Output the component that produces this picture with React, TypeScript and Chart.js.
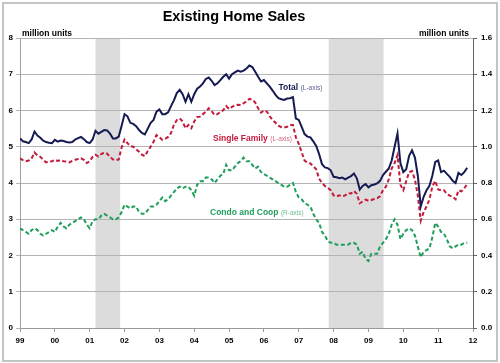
import React, { useEffect, useRef } from "react";
import { Chart, registerables } from "chart.js";

Chart.register(...registerables);

// Monthly data, Jan 1999 .. Nov 2011 (index 0 = Jan 1999)
const yearLabels = ["99", "00", "01", "02", "03", "04", "05", "06", "07", "08", "09", "10", "11", "12"];

// Total existing home sales, million units (left axis)
const totalSales = [
  5.23, 5.15, 5.13, 5.10, 5.20, 5.42, 5.31, 5.25, 5.17, 5.13, 5.11, 5.10,
  5.19, 5.14, 5.17, 5.16, 5.13, 5.12, 5.13, 5.20, 5.24, 5.27, 5.21, 5.13,
  5.10, 5.20, 5.44, 5.36, 5.41, 5.46, 5.45, 5.36, 5.23, 5.23, 5.28, 5.58,
  5.90, 5.84, 5.66, 5.63, 5.57, 5.46, 5.38, 5.34, 5.50, 5.66, 5.74, 5.97,
  6.03, 5.90, 5.90, 5.95, 6.12, 6.28, 6.48, 6.57, 6.45, 6.24, 6.45, 6.24,
  6.45, 6.60, 6.66, 6.75, 6.87, 6.91, 6.82, 6.70, 6.75, 6.84, 6.93, 7.00,
  6.88, 7.00, 7.05, 7.10, 7.07, 7.10, 7.16, 7.24, 7.20, 7.07, 6.93, 6.80,
  6.84, 6.75, 6.66, 6.55, 6.43, 6.34, 6.31, 6.29, 6.33, 6.34, 6.37, 5.78,
  5.74, 5.55, 5.35, 5.28, 5.26, 5.15, 5.02, 4.80, 4.52, 4.43, 4.41, 4.35,
  4.17, 4.16, 4.13, 4.15, 4.10, 4.15, 4.19, 4.26, 4.13, 3.82, 3.92, 3.97,
  3.88, 3.94, 3.96, 3.99, 4.06, 4.22, 4.31, 4.40, 4.62, 5.00, 5.37, 4.55,
  4.30, 4.38, 4.75, 4.90, 4.70, 4.20, 3.35, 3.62, 3.80, 3.92, 4.20, 4.58,
  4.62, 4.30, 4.34, 4.25, 4.17, 4.06, 4.00, 4.28, 4.22, 4.30, 4.42,
];

// Single family, million units (left axis)
const singleFamily = [
  4.68, 4.63, 4.60, 4.62, 4.68, 4.84, 4.76, 4.72, 4.64, 4.57, 4.59, 4.60,
  4.64, 4.61, 4.63, 4.60, 4.59, 4.57, 4.61, 4.64, 4.66, 4.68, 4.64, 4.55,
  4.60, 4.72, 4.78, 4.73, 4.80, 4.84, 4.81, 4.72, 4.65, 4.63, 4.65, 4.98,
  5.20, 5.10, 5.02, 5.00, 4.93, 4.86, 4.78, 4.74, 4.88, 5.00, 5.14, 5.32,
  5.26, 5.19, 5.22, 5.27, 5.38, 5.60, 5.74, 5.78, 5.70, 5.51, 5.60, 5.51,
  5.70, 5.82, 5.83, 5.90, 5.97, 6.06, 5.98, 5.88, 5.90, 5.96, 6.01, 6.12,
  6.04, 6.10, 6.14, 6.16, 6.15, 6.20, 6.25, 6.32, 6.30, 6.22, 6.06, 5.94,
  6.00, 5.97, 5.84, 5.74, 5.66, 5.58, 5.54, 5.53, 5.55, 5.60, 5.60, 5.26,
  5.08, 4.85, 4.62, 4.56, 4.54, 4.46, 4.38, 4.12, 4.00, 3.92, 3.87, 3.80,
  3.66, 3.63, 3.66, 3.63, 3.66, 3.72, 3.71, 3.78, 3.70, 3.44, 3.49, 3.54,
  3.51, 3.53, 3.56, 3.58, 3.64, 3.80, 3.90, 4.10, 4.40, 4.55, 4.77, 3.95,
  3.80, 4.05, 4.30, 4.33, 4.10, 3.65, 2.96, 3.20, 3.35, 3.55, 3.90, 4.06,
  3.82, 3.80, 3.80, 3.70, 3.65, 3.62, 3.55, 3.80, 3.77, 3.85, 3.98,
];

// Condo and co-op, million units (right axis)
const condoCoop = [
  0.55, 0.54, 0.53, 0.52, 0.54, 0.55, 0.54, 0.52, 0.51, 0.52, 0.53, 0.54,
  0.53, 0.56, 0.58, 0.56, 0.55, 0.57, 0.58, 0.59, 0.60, 0.61, 0.60, 0.57,
  0.55, 0.59, 0.60, 0.60, 0.62, 0.63, 0.62, 0.61, 0.60, 0.60, 0.61, 0.64,
  0.68, 0.67, 0.66, 0.67, 0.67, 0.64, 0.63, 0.63, 0.65, 0.67, 0.67, 0.68,
  0.70, 0.72, 0.70, 0.71, 0.73, 0.75, 0.77, 0.78, 0.77, 0.78, 0.78, 0.76,
  0.73, 0.79, 0.81, 0.81, 0.83, 0.83, 0.82, 0.80, 0.82, 0.84, 0.85, 0.90,
  0.87, 0.87, 0.89, 0.91, 0.92, 0.94, 0.92, 0.92, 0.90, 0.88, 0.89, 0.86,
  0.85, 0.84, 0.83, 0.82, 0.81, 0.80, 0.79, 0.78, 0.78, 0.79, 0.80, 0.75,
  0.72, 0.71, 0.69, 0.68, 0.67, 0.63, 0.60, 0.58, 0.53, 0.51, 0.48, 0.47,
  0.47, 0.46, 0.46, 0.46, 0.46, 0.46, 0.47, 0.47, 0.46, 0.41, 0.42, 0.38,
  0.37, 0.41, 0.41, 0.41, 0.45, 0.47, 0.49, 0.52, 0.57, 0.60, 0.57, 0.49,
  0.52, 0.54, 0.55, 0.54, 0.51, 0.45, 0.39, 0.42, 0.43, 0.44, 0.50, 0.58,
  0.56, 0.53, 0.52, 0.49, 0.45, 0.44, 0.45, 0.46, 0.46, 0.47, 0.47,
];

// Recession periods, in month index units
const recessionStarts = [26, 106.3];
const recessionEnds = [34.5, 125.2];

const leftMax = 8;
const rightMax = 1.6;

const FONT = '"Liberation Sans", Arial, Helvetica, sans-serif';
const NAVY = "#151a52";
const RED = "#c41a3c";
const GREEN = "#1f9e5c";

const toPoints = (arr: number[]) => arr.map((v, i) => ({ x: i, y: v }));

const decorPlugin = {
  id: "decor",
  beforeDraw(chart: any) {
    const { ctx, chartArea, scales } = chart;
    ctx.save();
    ctx.fillStyle = "#ffffff";
    ctx.fillRect(0, 0, chart.width, chart.height);
    // outer frame
    ctx.strokeStyle = "#c4c4c4";
    ctx.lineWidth = 2;
    ctx.strokeRect(3, 3, chart.width - 6, chart.height - 5);
    // recession shading
    ctx.fillStyle = "#dcdcdc";
    recessionStarts.forEach((s, k) => {
      const x0 = scales.x.getPixelForValue(s);
      const x1 = scales.x.getPixelForValue(recessionEnds[k]);
      ctx.fillRect(x0, chartArea.top, x1 - x0, chartArea.bottom - chartArea.top);
    });
    ctx.restore();
  },
  afterDraw(chart: any) {
    const { ctx } = chart;
    ctx.save();
    ctx.fillStyle = "#000";
    ctx.textBaseline = "alphabetic";
    ctx.textAlign = "center";
    ctx.font = `bold 14.5px ${FONT}`;
    ctx.fillText("Existing Home Sales", 234, 21);

    ctx.font = `bold 8.5px ${FONT}`;
    ctx.textAlign = "left";
    ctx.fillText("million units", 22, 36);
    ctx.textAlign = "right";
    ctx.fillText("million units", 469, 36);

    const drawLabel = (x: number, y: number, main: string, sub: string, c1: string, c2: string) => {
      ctx.textAlign = "left";
      ctx.font = `bold 8.5px ${FONT}`;
      ctx.fillStyle = c1;
      ctx.fillText(main, x, y);
      const w = ctx.measureText(main).width;
      ctx.font = `6.5px ${FONT}`;
      ctx.fillStyle = c2;
      ctx.fillText(sub, x + w + 2.5, y);
    };
    drawLabel(278.5, 90, "Total", "(L-axis)", NAVY, "#5a5f8e");
    drawLabel(213, 141, "Single Family", "(L-axis)", RED, "#d56a7e");
    drawLabel(210, 215, "Condo and Coop", "(R-axis)", GREEN, "#6cbf90");
    ctx.restore();
  },
};

export default function App() {
  const canvasRef = useRef<HTMLCanvasElement | null>(null);

  useEffect(() => {
    if (!canvasRef.current) return;
    const tickFont = { family: FONT, size: 8, weight: "bold" as const };
    const chart = new Chart(canvasRef.current, {
      type: "line",
      data: {
        datasets: [
          {
            label: "Total",
            data: toPoints(totalSales),
            yAxisID: "y",
            borderColor: NAVY,
            borderWidth: 2,
            pointRadius: 0,
            tension: 0,
          },
          {
            label: "Single Family",
            data: toPoints(singleFamily),
            yAxisID: "y",
            borderColor: RED,
            borderWidth: 2,
            borderDash: [4, 2.5],
            pointRadius: 0,
            tension: 0,
          },
          {
            label: "Condo and Coop",
            data: toPoints(condoCoop),
            yAxisID: "y1",
            borderColor: GREEN,
            borderWidth: 2,
            borderDash: [4, 2.5],
            pointRadius: 0,
            tension: 0,
          },
        ],
      },
      options: {
        responsive: false,
        animation: false,
        layout: { padding: { top: 38, left: 0, right: 0, bottom: 0 } },
        plugins: {
          legend: { display: false },
          tooltip: { enabled: false },
          title: { display: false },
        },
        scales: {
          x: {
            type: "linear",
            min: 0,
            max: (yearLabels.length - 1) * 12,
            afterFit: (s: any) => {
              s.height = 35;
            },
            afterBuildTicks: (s: any) => {
              s.ticks = yearLabels.map((_, k) => ({ value: k * 12 }));
            },
            ticks: {
              autoSkip: false,
              maxRotation: 0,
              font: tickFont,
              color: "#000",
              padding: 4,
              callback: (v: any) => yearLabels[Math.round(Number(v) / 12)],
            },
            grid: { drawOnChartArea: false, tickLength: 4, color: "#999" },
            border: { color: "#999" },
          },
          y: {
            position: "left",
            min: 0,
            max: leftMax,
            afterFit: (s: any) => {
              s.width = 20;
            },
            ticks: { stepSize: 1, font: tickFont, color: "#000", padding: 3 },
            grid: { color: "#b4b4b4", tickLength: 4 },
            border: { color: "#a0a0a0" },
          },
          y1: {
            position: "right",
            min: 0,
            max: rightMax,
            afterFit: (s: any) => {
              s.width = 27;
            },
            ticks: {
              stepSize: 0.2,
              font: tickFont,
              color: "#000",
              padding: 4,
              callback: (v: any) => Number(v).toFixed(1),
            },
            grid: { drawOnChartArea: false, tickLength: 4, color: "#666" },
            border: { color: "#666" },
          },
        },
      },
      plugins: [decorPlugin],
    });
    return () => chart.destroy();
  }, []);

  return (
    <div style={{ position: "absolute", left: 0, top: 0, width: 500, height: 363 }}>
      <canvas ref={canvasRef} width={500} height={363} style={{ width: 500, height: 363 }} />
    </div>
  );
}
